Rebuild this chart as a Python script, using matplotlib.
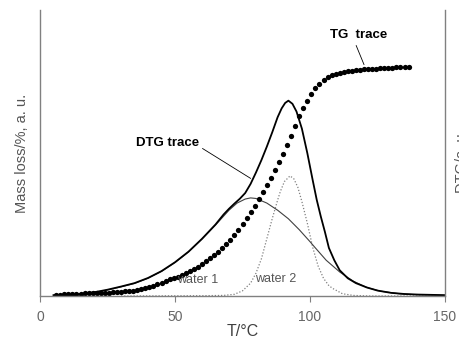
import matplotlib.pyplot as plt
import numpy as np

plt.rcParams["font.family"] = ["Liberation Sans", "DejaVu Sans"]

# TG trace, sampled every 1.5 degC from 6 to 136.5
tg_t = np.arange(6, 137, 1.5)
tg_y = [0.005, 0.005, 0.006, 0.006, 0.007, 0.007, 0.008, 0.009, 0.009, 0.010,
        0.010, 0.011, 0.012, 0.012, 0.013, 0.014, 0.015, 0.016, 0.018, 0.019,
        0.021, 0.023, 0.027, 0.031, 0.036, 0.041, 0.047, 0.053, 0.058, 0.063,
        0.068, 0.073, 0.079, 0.086, 0.094, 0.103, 0.112, 0.122, 0.132, 0.143,
        0.155, 0.168, 0.182, 0.197, 0.213, 0.232, 0.251, 0.271, 0.293, 0.315,
        0.338, 0.362, 0.388, 0.413, 0.440, 0.468, 0.497, 0.527, 0.561, 0.596,
        0.628, 0.657, 0.683, 0.706, 0.726, 0.742, 0.755, 0.764, 0.771, 0.776,
        0.780, 0.783, 0.786, 0.788, 0.790, 0.791, 0.792, 0.793, 0.794, 0.795,
        0.796, 0.797, 0.797, 0.798, 0.799, 0.799, 0.800, 0.801]

dtg_t = [5, 10, 15, 20, 25, 30, 35, 40, 45, 50, 55, 60, 65, 68, 70, 72, 74, 76,
         78, 80, 82, 84, 86, 88, 89.5, 90.8, 92, 93.5, 95, 97, 99, 101, 102.5,
         104, 105.5, 107, 109, 111, 114, 117, 121, 125, 130, 135, 140, 145, 150]
dtg_y = [0.003, 0.004, 0.007, 0.013, 0.022, 0.033, 0.045, 0.063, 0.087, 0.118,
         0.155, 0.2, 0.25, 0.285, 0.305, 0.323, 0.34, 0.36, 0.392, 0.432, 0.475,
         0.522, 0.572, 0.625, 0.656, 0.675, 0.683, 0.672, 0.645, 0.585, 0.5,
         0.405, 0.336, 0.278, 0.225, 0.168, 0.125, 0.09, 0.062, 0.045, 0.03,
         0.019, 0.011, 0.007, 0.005, 0.004, 0.003]

w1_t = [5, 10, 15, 20, 25, 30, 35, 40, 45, 50, 55, 60, 65, 70, 73, 76, 78, 80,
        84, 88, 92, 96, 100, 102, 106, 111, 116, 121, 126, 133, 140, 145, 150]
w1_y = [0.002, 0.003, 0.006, 0.012, 0.021, 0.032, 0.044, 0.062, 0.086, 0.117,
        0.154, 0.199, 0.248, 0.3, 0.325, 0.339, 0.343, 0.341, 0.325, 0.3, 0.27,
        0.232, 0.19, 0.168, 0.125, 0.084, 0.052, 0.03, 0.017, 0.008, 0.004,
        0.003, 0.002]

w2_t = [30, 60, 68, 72, 75, 78, 80, 82, 84, 86, 88, 89, 90.5, 92.6, 94, 95.5,
        97, 99, 101, 103, 105, 107, 108.5, 112, 116, 122, 150]
w2_y = [0.0, 0.001, 0.002, 0.006, 0.018, 0.045, 0.08, 0.13, 0.2, 0.27, 0.335,
        0.365, 0.4, 0.42, 0.41, 0.38, 0.33, 0.255, 0.17, 0.105, 0.062, 0.036,
        0.026, 0.008, 0.002, 0.0, 0.0]

fig = plt.figure(figsize=(4.6, 3.38), dpi=100)
ax = fig.add_axes([40 / 460, 42 / 338, 405 / 460, 286 / 338])

ax.plot(w2_t, w2_y, color="#808080", lw=0.9, linestyle=(0, (1, 1.5)))
ax.plot(w1_t, w1_y, color="#404040", lw=0.8)
ax.plot(dtg_t, dtg_y, color="black", lw=1.3)
ax.plot(tg_t, tg_y, "o", color="black", ms=3.8, mew=0)

ax.set_xlim(0, 150)
ax.set_ylim(0, 1)
ax.set_xticks([0, 50, 100, 150])
ax.set_yticks([])
ax.tick_params(axis="x", direction="out", length=4, color="#808080",
               labelcolor="#666666", labelsize=10, pad=6)
for side in ["left", "right", "bottom"]:
    ax.spines[side].set_color("#808080")
    ax.spines[side].set_linewidth(1)
ax.spines["top"].set_visible(False)

ax.set_xlabel("T/°C", fontsize=11.5, color="#404040", labelpad=0)
ax.set_ylabel("Mass loss/%, a. u.", fontsize=10.5, color="#555555", labelpad=8)
# right-hand label is cut by the figure edge in the original
fig.text(455 / 460, 0.524, "DTG/a. u.", rotation=90, ha="left", va="center",
         fontsize=10.5, color="#555555")

ax.text(118.1, 0.913, "TG  trace", ha="center", va="center",
        fontsize=9.5, fontweight="bold")
ax.annotate("", xy=(120.4, 0.80), xytext=(116.7, 0.885),
            arrowprops=dict(arrowstyle="-", color="black", lw=0.6))
ax.text(47.4, 0.535, "DTG trace", ha="center", va="center",
        fontsize=9.5, fontweight="bold")
ax.annotate("", xy=(78.9, 0.406), xytext=(59.3, 0.521),
            arrowprops=dict(arrowstyle="-", color="black", lw=0.6))
ax.text(50.7, 0.056, "water 1", ha="left", va="center", fontsize=9,
        color="#555555")
ax.text(79.6, 0.06, "water 2", ha="left", va="center", fontsize=9,
        color="#555555")

fig.savefig("out.png", dpi=100)
